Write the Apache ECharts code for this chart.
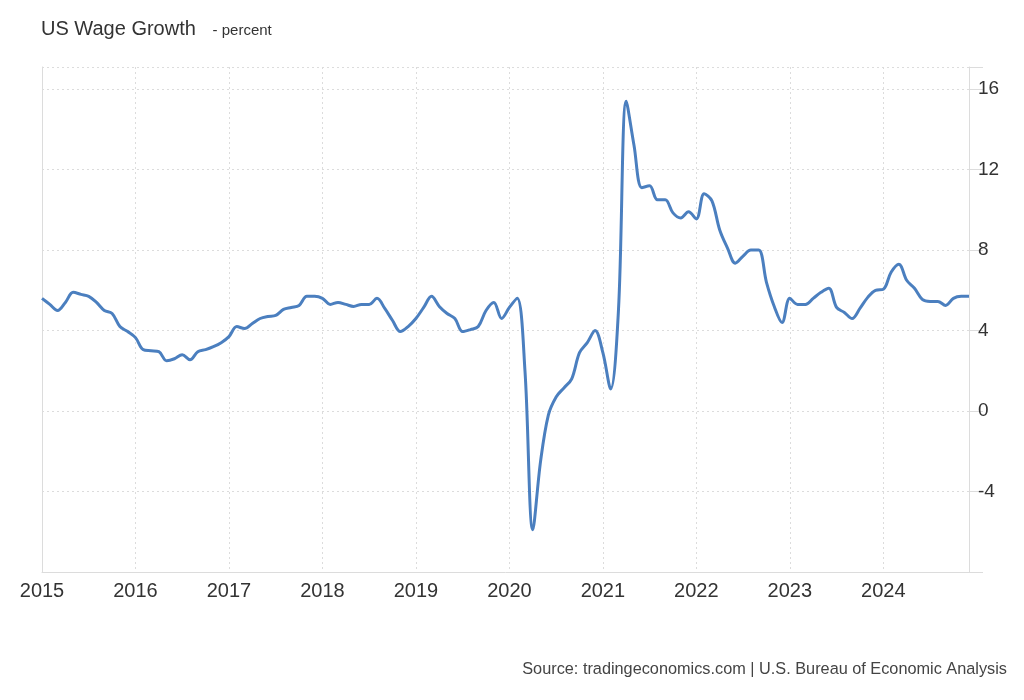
<!DOCTYPE html>
<html>
<head>
<meta charset="utf-8">
<script src="https://cdn.jsdelivr.net/npm/echarts@6/dist/echarts.min.js"></script>
<style>html,body{margin:0;padding:0;background:#fff}#c{width:1024px;height:700px}</style>
</head>
<body>
<div id="c"></div>
<script>
const years = ['2015','2016','2017','2018','2019','2020','2021','2022','2023','2024'];
const wage2015 = [5.6, 5.3, 5.0, 5.4, 5.9, 5.8, 5.7, 5.4, 5.0, 4.85, 4.2, 3.95];
const wage2016 = [3.65, 3.05, 3.0, 2.95, 2.5, 2.6, 2.8, 2.55, 2.95, 3.05, 3.2, 3.4];
const wage2017 = [3.7, 4.2, 4.1, 4.35, 4.6, 4.7, 4.75, 5.05, 5.15, 5.25, 5.7, 5.7];
const wage2018 = [5.6, 5.3, 5.4, 5.3, 5.2, 5.3, 5.3, 5.6, 5.1, 4.5, 3.95, 4.2];
const wage2019 = [4.6, 5.15, 5.7, 5.2, 4.85, 4.6, 3.95, 4.05, 4.2, 5.0, 5.4, 4.6];
const wage2020 = [5.15, 5.6, 2.0, -5.9, -2.5, -0.2, 0.7, 1.15, 1.6, 2.9, 3.4, 4.0];
const wage2021 = [2.9, 1.1, 5.0, 15.4, 13.2, 11.1, 11.2, 10.5, 10.5, 9.85, 9.6, 9.9];
const wage2022 = [9.55, 10.8, 10.45, 9.0, 8.1, 7.35, 7.7, 8.0, 8.0, 6.4, 5.2, 4.4];
const wage2023 = [5.6, 5.3, 5.3, 5.6, 5.9, 6.1, 5.15, 4.9, 4.6, 5.1, 5.65, 6.0];
const wage2024 = [6.05, 6.9, 7.3, 6.5, 6.1, 5.55, 5.45, 5.45, 5.25, 5.6, 5.7, 5.7];
const yTicks = [-4, 0, 4, 8, 12, 16];

const series = [wage2015, wage2016, wage2017, wage2018, wage2019, wage2020, wage2021, wage2022, wage2023, wage2024];
const months = [];
const values = [];
years.forEach((y, i) => {
  series[i].forEach((v, m) => {
    months.push(y + '-' + String(m + 1).padStart(2, '0'));
    values.push(v);
  });
});

const FONT = 'Liberation Sans, Arial, sans-serif';
const chart = echarts.init(document.getElementById('c'), null, {renderer: 'canvas'});
const gridColor = '#dcdcdc';
chart.setOption({
  animation: false,
  backgroundColor: '#fff',
  textStyle: {fontFamily: FONT},
  title: {
    text: '{a|US Wage Growth}{b|    - percent}',
    left: 36,
    top: 14,
    textStyle: {
      fontWeight: 'normal',
      rich: {
        a: {fontSize: 20, color: '#333', fontWeight: 'normal', fontFamily: FONT, verticalAlign: 'bottom'},
        b: {fontSize: 15, color: '#333', fontWeight: 'normal', fontFamily: FONT, verticalAlign: 'bottom', padding: [0, 0, 1, 0]}
      }
    }
  },
  graphic: [{
    type: 'text',
    right: 17,
    top: 662,
    style: {
      text: 'Source: tradingeconomics.com | U.S. Bureau of Economic Analysis',
      fontSize: 16.3,
      fill: '#444',
      fontFamily: FONT
    }
  }],
  grid: {left: 42, right: 55, top: 67, bottom: 128, containLabel: false},
  xAxis: {
    type: 'category',
    data: months,
    boundaryGap: false,
    axisLine: {show: true, onZero: false, lineStyle: {color: gridColor, width: 1}},
    axisTick: {show: false},
    axisLabel: {
      interval: (idx) => idx % 12 === 0,
      formatter: (v) => v.slice(0, 4),
      fontSize: 20,
      color: '#333',
      margin: 9
    },
    splitLine: {
      show: true,
      interval: (idx) => idx % 12 === 0,
      lineStyle: {color: gridColor, type: [2, 3], width: 1}
    }
  },
  yAxis: [{
    type: 'value',
    position: 'right',
    min: -8,
    max: 17.1,
    interval: 4,
    axisLine: {show: true, lineStyle: {color: gridColor, width: 1}},
    axisTick: {show: true, length: 14, lineStyle: {color: gridColor}},
    axisLabel: {
      fontSize: 19,
      color: '#333',
      margin: 9,
      formatter: (v) => (yTicks.indexOf(v) >= 0 ? String(v) : '')
    },
    splitLine: {
      show: true,
      interval: (idx) => idx !== 0,
      lineStyle: {color: gridColor, type: [2, 3], width: 1}
    }
  }, {
    type: 'value',
    position: 'left',
    min: -8,
    max: 17.1,
    interval: 4,
    axisLine: {show: true, onZero: false, lineStyle: {color: gridColor, width: 1}},
    axisTick: {show: false},
    axisLabel: {show: false},
    splitLine: {show: false}
  }],
  series: [{
    type: 'line',
    data: values,
    smooth: 0.35,
    showSymbol: false,
    symbol: 'none',
    lineStyle: {color: '#4b7fbf', width: 3},
    itemStyle: {color: '#4b7fbf'}
  }]
});
</script>
</body>
</html>
